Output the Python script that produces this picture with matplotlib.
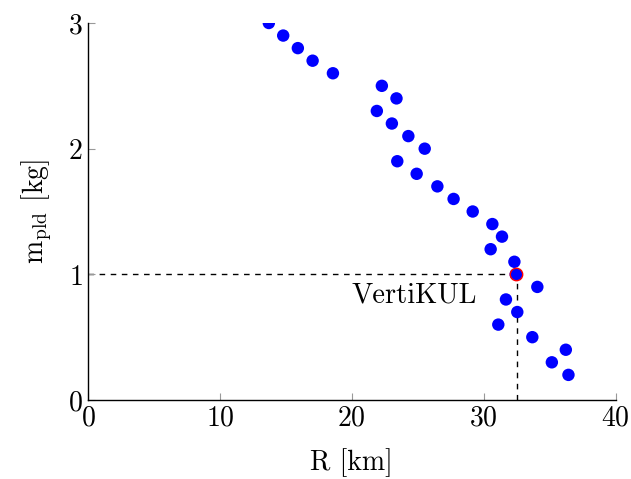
import numpy as np
import matplotlib
matplotlib.use("Agg")
import matplotlib.pyplot as plt

plt.rcParams['font.family'] = ['cmr10', 'DejaVu Serif']
plt.rcParams['mathtext.fontset'] = 'cm'
plt.rcParams['axes.formatter.use_mathtext'] = True

# range R [km] and payload mass [kg]
R = [13.71, 14.8, 15.91, 17.03, 18.57, 22.28, 23.39, 21.9, 23.04, 24.29,
     25.53, 23.45, 24.92, 26.49, 27.72, 29.17, 30.66, 31.39, 30.53, 32.33,
     32.43, 34.07, 31.69, 32.55, 31.11, 33.69, 36.23, 35.17, 36.43]
m_pld = [3.0, 2.9, 2.8, 2.7, 2.6, 2.5, 2.4, 2.3, 2.2, 2.1,
         2.0, 1.9, 1.8, 1.7, 1.6, 1.5, 1.4, 1.3, 1.2, 1.1,
         1.0, 0.9, 0.8, 0.7, 0.6, 0.5, 0.4, 0.3, 0.2]

# VertiKUL design point
R_vk = 32.43
m_vk = 1.0
R_ref = 32.5

fig = plt.figure(figsize=(6.31, 4.79), dpi=100)
ax = fig.add_axes([0.1395, 0.1649, 0.836, 0.7871])

ax.plot([0, R_ref], [m_vk, m_vk], color='black', lw=1, ls=(0, (4, 4)), zorder=1)
ax.plot([R_ref, R_ref], [0, m_vk], color='black', lw=1, ls=(0, (4, 4)), zorder=1)

ax.scatter(R, m_pld, s=80, color='blue', edgecolors='none', zorder=2)
ax.scatter([R_vk], [m_vk], s=80, color='blue', edgecolors='red', linewidths=1.0, zorder=3)

ax.text(24.75, 0.83, 'VertiKUL', fontsize=20.5, ha='center', va='center')

ax.set_xlim(0, 40)
ax.set_ylim(0, 3)
ax.set_xticks([0, 10, 20, 30, 40])
ax.set_yticks([0, 1, 2, 3])

ax.spines['top'].set_visible(False)
ax.spines['right'].set_visible(False)
ax.spines['left'].set_linewidth(1)
ax.spines['bottom'].set_linewidth(1)
ax.tick_params(direction='in', length=5, width=0.8, color='0.6',
               labelsize=20, pad=4)

ax.set_xlabel('R [km]', fontsize=20, labelpad=12)
ax.set_ylabel(r'$\mathrm{m}_{\mathrm{pld}}$ [kg]', fontsize=20, labelpad=10)

fig.savefig('out.png', dpi=100)
